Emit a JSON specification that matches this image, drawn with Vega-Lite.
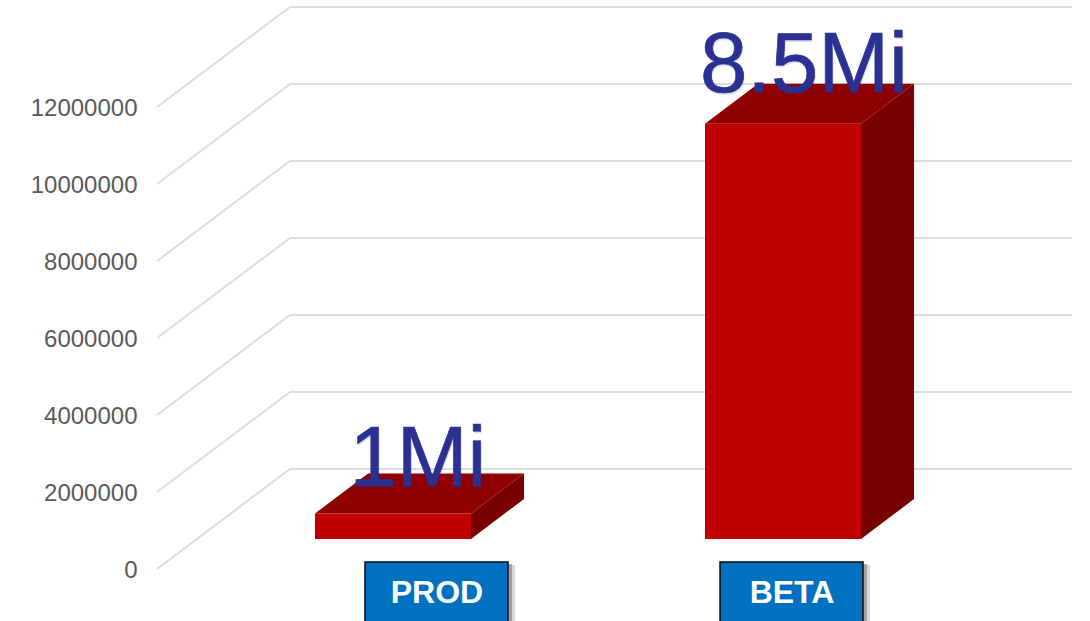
{
"$schema":"https://vega.github.io/schema/vega-lite/v6.json",
"width":943,"height":621,"autosize":{"type":"none"},
"padding":{"left":147,"top":0,"right":0,"bottom":0},
"background":"#ffffff",
"config":{"view":{"stroke":null},"font":"Liberation Sans"},
"resolve":{"axis":{"y":"independent"}},
"datasets":{
"grid":[{"tick":0},{"tick":2000000},{"tick":4000000},{"tick":6000000},{"tick":8000000},{"tick":10000000},{"tick":12000000}],
"bars":[
{"category":"PROD","label":"1Mi","value":662000,"start":0.8,"end":1.2,"labelSlot":1.064,"labelLevel":2155844,"boxStart":0.9282,"boxEnd":1.2949,"boxCenter":1.1128},
{"category":"BETA","label":"8.5Mi","value":10787000,"start":1.8,"end":2.2,"labelSlot":2.0538,"labelLevel":12389610,"boxStart":1.8385,"boxEnd":2.2051,"boxCenter":2.0231}
],
"faces":[
{"bar":"PROD","face":"top","slot":0.8,"upper":662000,"lower":662000},
{"bar":"PROD","face":"top","slot":0.936,"upper":1701000,"lower":662000},
{"bar":"PROD","face":"top","slot":1.2,"upper":1701000,"lower":662000},
{"bar":"PROD","face":"top","slot":1.336,"upper":1701000,"lower":1701000},
{"bar":"PROD","face":"side","slot":1.2,"upper":662000,"lower":0},
{"bar":"PROD","face":"side","slot":1.336,"upper":1701000,"lower":1039000},
{"bar":"BETA","face":"top","slot":1.8,"upper":10787000,"lower":10787000},
{"bar":"BETA","face":"top","slot":1.936,"upper":11826000,"lower":10787000},
{"bar":"BETA","face":"top","slot":2.2,"upper":11826000,"lower":10787000},
{"bar":"BETA","face":"top","slot":2.336,"upper":11826000,"lower":11826000},
{"bar":"BETA","face":"side","slot":2.2,"upper":10787000,"lower":0},
{"bar":"BETA","face":"side","slot":2.336,"upper":11826000,"lower":1039000}
]
},
"layer":[
{"data":{"name":"grid"},
 "mark":{"type":"rule","stroke":"#DDDDDD","strokeWidth":2,"y2Offset":-100},
 "encoding":{
  "x":{"datum":0.3949,"type":"quantitative","scale":{"domain":[0.36923,2.78718],"nice":false,"zero":false},"axis":null},
  "x2":{"datum":0.7359},
  "y":{"field":"tick","type":"quantitative","scale":{"domain":[-1350649,14779221],"nice":false,"zero":false},
   "axis":{"values":[0,2000000,4000000,6000000,8000000,10000000,12000000],"format":"d","title":null,"domain":false,"ticks":false,"grid":false,"labelPadding":10,"labelOffset":1,"labelFontSize":24,"labelColor":"#595959","labelFont":"Liberation Sans"}},
  "y2":{"field":"tick"}}},
{"data":{"name":"grid"},
 "mark":{"type":"rule","stroke":"#DDDDDD","strokeWidth":2,"yOffset":-100},
 "encoding":{
  "x":{"datum":0.7359,"type":"quantitative","scale":{"domain":[0.36923,2.78718],"nice":false,"zero":false},"axis":null},
  "x2":{"datum":2.741},
  "y":{"field":"tick","type":"quantitative","scale":{"domain":[-1350649,14779221],"nice":false,"zero":false},"axis":null}}},
{"data":{"name":"faces"},
 "mark":{"type":"area","orient":"vertical","yOffset":-30,"y2Offset":-30},
 "encoding":{
  "x":{"field":"slot","type":"quantitative","scale":{"domain":[0.36923,2.78718],"nice":false,"zero":false},"axis":null},
  "y":{"field":"upper","type":"quantitative","stack":null,"scale":{"domain":[-1350649,14779221],"nice":false,"zero":false},"axis":null},
  "y2":{"field":"lower"},
  "color":{"field":"face","type":"nominal","scale":{"domain":["top","side"],"range":["#8F0000","#7A0000"]},"legend":null},
  "detail":{"field":"bar"}}},
{"data":{"name":"bars"},
 "mark":{"type":"rect","fill":"#C00000","yOffset":-30,"y2Offset":-30},
 "encoding":{
  "x":{"field":"start","type":"quantitative","scale":{"domain":[0.36923,2.78718],"nice":false,"zero":false},"axis":null},
  "x2":{"field":"end"},
  "y":{"field":"value","type":"quantitative","scale":{"domain":[-1350649,14779221],"nice":false,"zero":false},"axis":null},
  "y2":{"datum":0}}},
{"data":{"name":"bars"},
 "mark":{"type":"text","font":"Liberation Sans","fontSize":85,"fill":"#2B3192","opacity":0.15,"baseline":"alphabetic","align":"center","dy":2,"dx":1},
 "encoding":{
  "x":{"field":"labelSlot","type":"quantitative","scale":{"domain":[0.36923,2.78718],"nice":false,"zero":false},"axis":null},
  "y":{"field":"labelLevel","type":"quantitative","scale":{"domain":[-1350649,14779221],"nice":false,"zero":false},"axis":null},
  "text":{"field":"label"}}},
{"data":{"name":"bars"},
 "mark":{"type":"text","font":"Liberation Sans","fontSize":85,"fill":"#2B3192","stroke":"#2B3192","strokeWidth":0.7,"baseline":"alphabetic","align":"center"},
 "encoding":{
  "x":{"field":"labelSlot","type":"quantitative","scale":{"domain":[0.36923,2.78718],"nice":false,"zero":false},"axis":null},
  "y":{"field":"labelLevel","type":"quantitative","scale":{"domain":[-1350649,14779221],"nice":false,"zero":false},"axis":null},
  "text":{"field":"label"}}},
{"data":{"name":"bars"},
 "mark":{"type":"rect","fill":"#7F7F7F","opacity":0.3,"xOffset":3,"x2Offset":7,"yOffset":3,"y2Offset":3},
 "encoding":{
  "x":{"field":"boxStart","type":"quantitative","scale":{"domain":[0.36923,2.78718],"nice":false,"zero":false},"axis":null},
  "x2":{"field":"boxEnd"},
  "y":{"datum":181818,"type":"quantitative","scale":{"domain":[-1350649,14779221],"nice":false,"zero":false},"axis":null},
  "y2":{"datum":-1500000}}},
{"data":{"name":"bars"},
 "mark":{"type":"rect","fill":"#7F7F7F","opacity":0.6,"xOffset":2,"x2Offset":4,"yOffset":2,"y2Offset":2},
 "encoding":{
  "x":{"field":"boxStart","type":"quantitative","scale":{"domain":[0.36923,2.78718],"nice":false,"zero":false},"axis":null},
  "x2":{"field":"boxEnd"},
  "y":{"datum":181818,"type":"quantitative","scale":{"domain":[-1350649,14779221],"nice":false,"zero":false},"axis":null},
  "y2":{"datum":-1500000}}},
{"data":{"name":"bars"},
 "mark":{"type":"rect","fill":"#0070C0","stroke":"#0A0A0A","strokeWidth":1.5},
 "encoding":{
  "x":{"field":"boxStart","type":"quantitative","scale":{"domain":[0.36923,2.78718],"nice":false,"zero":false},"axis":null},
  "x2":{"field":"boxEnd"},
  "y":{"datum":181818,"type":"quantitative","scale":{"domain":[-1350649,14779221],"nice":false,"zero":false},"axis":null},
  "y2":{"datum":-1500000}}},
{"data":{"name":"bars"},
 "mark":{"type":"text","font":"Liberation Sans","fontWeight":"bold","fontSize":32,"fill":"#ffffff","baseline":"alphabetic","align":"center"},
 "encoding":{
  "x":{"field":"boxCenter","type":"quantitative","scale":{"domain":[0.36923,2.78718],"nice":false,"zero":false},"axis":null},
  "y":{"datum":-883117,"type":"quantitative","scale":{"domain":[-1350649,14779221],"nice":false,"zero":false},"axis":null},
  "text":{"field":"category"}}}
]
}
